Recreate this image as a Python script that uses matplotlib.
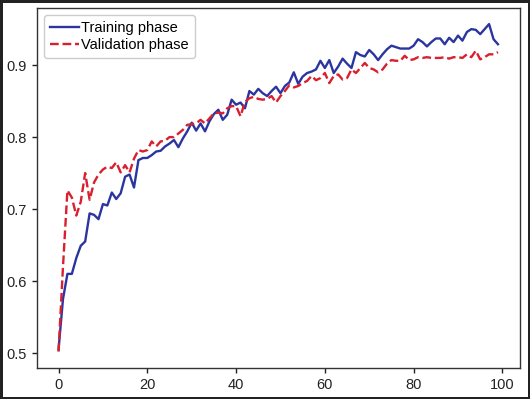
import matplotlib
matplotlib.use("Agg")
import matplotlib.pyplot as plt
import numpy as np

plt.rcParams['font.family'] = ['Liberation Sans', 'DejaVu Sans']

epochs = list(range(100))

training = [
    0.505, 0.575, 0.610, 0.610, 0.632, 0.649, 0.655, 0.694, 0.692, 0.686,
    0.707, 0.705, 0.723, 0.714, 0.722, 0.745, 0.748, 0.730, 0.768, 0.771,
    0.771, 0.775, 0.780, 0.781, 0.787, 0.791, 0.796, 0.786, 0.798, 0.808,
    0.820, 0.809, 0.819, 0.808, 0.822, 0.832, 0.838, 0.824, 0.831, 0.852,
    0.845, 0.848, 0.840, 0.864, 0.859, 0.867, 0.861, 0.857, 0.864, 0.870,
    0.861, 0.871, 0.876, 0.890, 0.874, 0.884, 0.889, 0.891, 0.894, 0.906,
    0.896, 0.907, 0.889, 0.898, 0.909, 0.902, 0.896, 0.918, 0.914, 0.912,
    0.921, 0.915, 0.907, 0.915, 0.922, 0.927, 0.925, 0.923, 0.923, 0.923,
    0.927, 0.936, 0.932, 0.926, 0.932, 0.937, 0.937, 0.929, 0.938, 0.932,
    0.941, 0.934, 0.946, 0.950, 0.949, 0.943, 0.950, 0.957, 0.936, 0.929,
]

validation = [
    0.502, 0.620, 0.726, 0.716, 0.691, 0.710, 0.750, 0.713, 0.737, 0.748,
    0.755, 0.759, 0.757, 0.765, 0.751, 0.761, 0.751, 0.770, 0.782, 0.780,
    0.782, 0.794, 0.787, 0.794, 0.795, 0.800, 0.800, 0.805, 0.810, 0.817,
    0.818, 0.819, 0.824, 0.819, 0.826, 0.833, 0.834, 0.833, 0.840, 0.843,
    0.843, 0.829, 0.849, 0.854, 0.856, 0.853, 0.852, 0.853, 0.857, 0.848,
    0.857, 0.864, 0.872, 0.869, 0.871, 0.875, 0.878, 0.885, 0.879, 0.882,
    0.889, 0.875, 0.885, 0.887, 0.880, 0.882, 0.894, 0.889, 0.896, 0.903,
    0.896, 0.894, 0.890, 0.894, 0.902, 0.907, 0.906, 0.906, 0.913, 0.907,
    0.908, 0.911, 0.910, 0.911, 0.910, 0.910, 0.910, 0.911, 0.909, 0.911,
    0.911, 0.910, 0.915, 0.911, 0.920, 0.908, 0.911, 0.915, 0.915, 0.918,
]

labels = ["Training phase", "Validation phase"]

fig = plt.figure(figsize=(5.30, 3.99), dpi=100)
fig.patch.set_edgecolor('#222222')
fig.patch.set_linewidth(2.5)
ax = fig.add_axes([0.069, 0.0777, 0.912, 0.903])

ax.plot(epochs, training, color='#2b35a0', lw=1.7, label=labels[0])
ax.plot(epochs, validation, color='#d8202e', lw=1.7, ls='--', label=labels[1])

ax.set_xticks([0, 20, 40, 60, 80, 100])
ax.set_yticks([0.5, 0.6, 0.7, 0.8, 0.9])
ax.set_yticklabels(['0.5', '0.6', '0.7', '0.8', '0.9'])
ax.tick_params(labelsize=10.5, colors='#222222', length=3.5, width=1)
for s in ax.spines.values():
    s.set_color('#333333')
    s.set_linewidth(1)

leg = ax.legend(loc='upper left', fontsize=10.5, handlelength=2.0,
                handletextpad=0.15, borderpad=0.4, labelspacing=0.25,
                fancybox=True, framealpha=1, edgecolor='#cccccc',
                borderaxespad=0.5)

fig.savefig("out.png", dpi=100)
